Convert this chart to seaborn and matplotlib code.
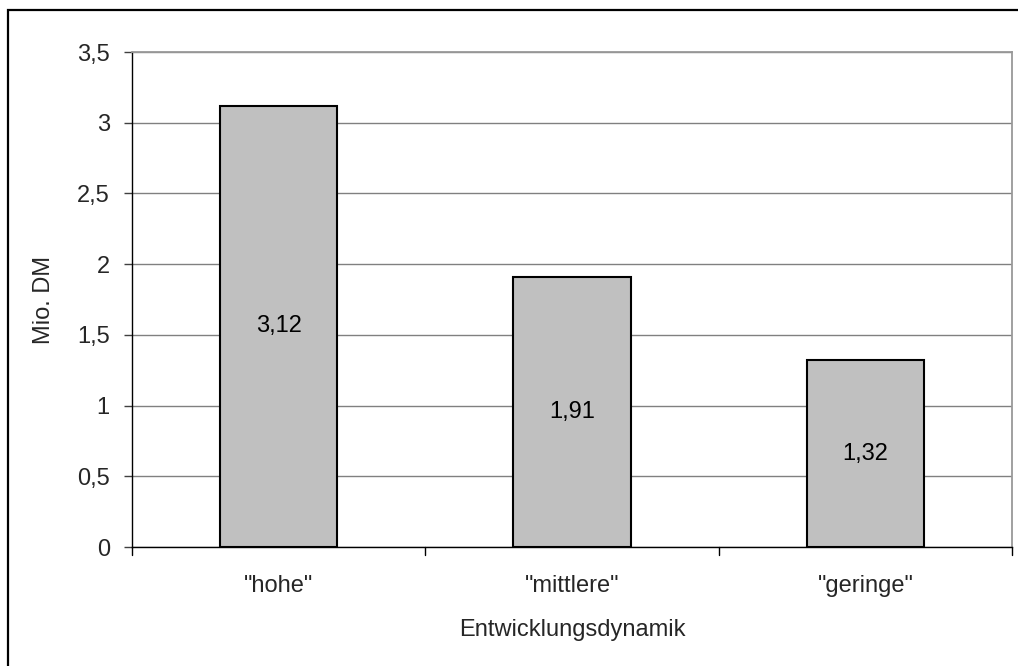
import matplotlib
matplotlib.use("Agg")
import matplotlib.pyplot as plt
import seaborn as sns
import pandas as pd
from matplotlib.patches import Rectangle

categories = ['"hohe"', '"mittlere"', '"geringe"']
values = [3.12, 1.91, 1.32]
y_ticks = [0, 0.5, 1, 1.5, 2, 2.5, 3, 3.5]
y_tick_labels = ["0", "0,5", "1", "1,5", "2", "2,5", "3", "3,5"]

sns.set_theme(style="white")
plt.rcParams["font.family"] = ["Liberation Sans", "DejaVu Sans"]

W, H, DPI = 1018, 666, 100
FS = 17
fig = plt.figure(figsize=(W / DPI, H / DPI), dpi=DPI)
ax = fig.add_axes([132 / W, 1 - 547 / H, (1012 - 132) / W, (547 - 52) / H])

df = pd.DataFrame({"Kategorie": categories, "Wert": values})
sns.barplot(data=df, x="Kategorie", y="Wert", color="#c0c0c0", width=0.4,
            edgecolor="black", linewidth=1.5, saturation=1, ax=ax, zorder=3)

ax.set_ylim(0, 3.5)
ax.set_xlim(-0.5, 2.5)
ax.set_yticks(y_ticks)
ax.set_yticklabels(y_tick_labels)
ax.yaxis.grid(True, color="#808080", linewidth=1.0, zorder=0)
ax.set_axisbelow(True)

# category boundary ticks on the x axis
ax.set_xticks([0, 1, 2])
ax.set_xticklabels(categories)
ax.tick_params(axis="x", length=0, pad=20, labelsize=FS)
for b in [-0.5, 0.5, 1.5, 2.5]:
    ax.plot([b, b], [0, -0.055], color="black", lw=1.0, clip_on=False,
            transform=ax.transData, zorder=5)
ax.tick_params(axis="y", length=6, width=1.0, color="#404040", direction="out",
               labelsize=FS, pad=10, left=True)

for side in ["top", "right"]:
    ax.spines[side].set_color("#999999")
    ax.spines[side].set_linewidth(1.3)
for side in ["left", "bottom"]:
    ax.spines[side].set_color("black")
    ax.spines[side].set_linewidth(1.0)

for i, v in enumerate(values):
    ax.text(i, v / 2, f"{v:.2f}".replace(".", ","), ha="center", va="center",
            fontsize=FS, color="black", zorder=6)

ax.set_xlabel("Entwicklungsdynamik", fontsize=FS, labelpad=16)
ax.set_ylabel("Mio. DM", fontsize=FS, labelpad=16)

# frame around the whole chart
fig.patches.append(Rectangle((8 / W, 1 - 700 / H), 1100 / W, (700 - 10) / H,
                             transform=fig.transFigure, fill=False,
                             edgecolor="black", linewidth=1.6))

fig.savefig("out.png", dpi=DPI)
